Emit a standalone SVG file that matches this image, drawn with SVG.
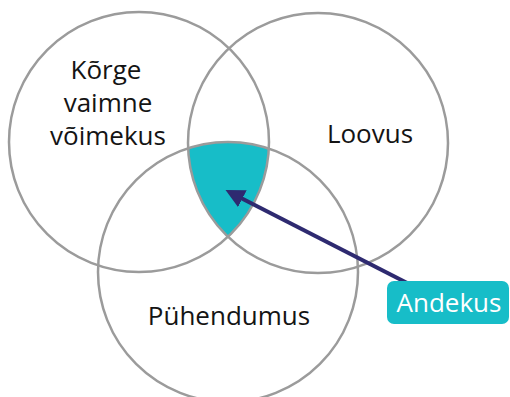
<svg xmlns="http://www.w3.org/2000/svg" width="510" height="397" viewBox="0 0 510 397">
<style>
.c{fill:none;stroke:#9b9b9b;stroke-width:2.5}
.t{font-family:"Open Sans","Liberation Sans",sans-serif;font-size:26px;fill:#141414;text-anchor:middle}
.w{font-family:"Open Sans","Liberation Sans",sans-serif;font-size:26px;fill:#ffffff;text-anchor:middle}
</style>
<defs>
<clipPath id="c2"><circle cx="318" cy="143" r="130"/></clipPath>
<clipPath id="c3"><circle cx="228" cy="272" r="130"/></clipPath>
<marker id="ah" viewBox="0 0 10 10" refX="2" refY="5" markerWidth="4.5" markerHeight="4.5" orient="auto-start-reverse" markerUnits="strokeWidth">
<path d="M0,0 L10,5 L0,10 z" fill="#2e2a70"/>
</marker>
</defs>
<rect width="510" height="397" fill="#ffffff"/>
<g id="andekus-region" clip-path="url(#c3)">
<circle cx="139" cy="142" r="130" fill="#17bdc8" clip-path="url(#c2)"/>
</g>
<g id="korge">
<circle class="c" cx="139" cy="142" r="130"/>
<text class="t" x="106" y="79">Kõrge</text>
<text class="t" x="108" y="112">vaimne</text>
<text class="t" x="108" y="145">võimekus</text>
</g>
<g id="loovus">
<circle class="c" cx="318" cy="143" r="130"/>
<text class="t" x="370" y="143">Loovus</text>
</g>
<g id="puhendumus">
<circle class="c" cx="228" cy="272" r="130"/>
<text class="t" x="229" y="325">Pühendumus</text>
</g>
<g id="connectors">
<line x1="413" y1="286" x2="239" y2="197" stroke="#2e2a70" stroke-width="4.2" marker-end="url(#ah)"/>
</g>
<g id="andekus">
<rect x="387" y="281" width="122" height="43" rx="7" fill="#17bdc8"/>
<text class="w" x="449" y="312">Andekus</text>
</g>
</svg>
